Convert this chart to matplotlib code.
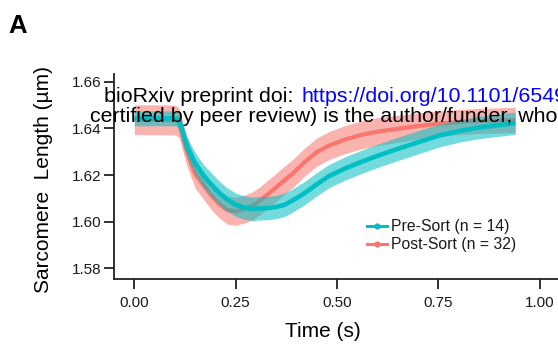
import matplotlib
matplotlib.use("Agg")
import matplotlib.pyplot as plt
import numpy as np

plt.rcParams['font.family'] = ['Liberation Sans', 'DejaVu Sans']

# Mean sarcomere length traces (µm) over one contraction cycle
time_s = [0.00, 0.05, 0.10, 0.11, 0.13, 0.15, 0.17, 0.19, 0.21, 0.23, 0.25,
          0.27, 0.29, 0.31, 0.33, 0.35, 0.37, 0.39, 0.42, 0.45, 0.48, 0.52,
          0.56, 0.60, 0.65, 0.70, 0.75, 0.80, 0.85, 0.90, 0.94]

pre_mean = [1.6443, 1.6443, 1.6443, 1.6438, 1.6322, 1.6252, 1.6198, 1.6159,
            1.6123, 1.6094, 1.6073, 1.6061, 1.6055, 1.6057, 1.6058, 1.6063,
            1.6072, 1.6090, 1.6122, 1.6160, 1.6195, 1.6228, 1.6256, 1.6282,
            1.6312, 1.6340, 1.6368, 1.6388, 1.6404, 1.6414, 1.6422]
pre_sem = [0.0032, 0.0032, 0.0032, 0.0034, 0.0040, 0.0045, 0.0048, 0.0050,
           0.0050, 0.0050, 0.0050, 0.0050, 0.0050, 0.0050, 0.0050, 0.0050,
           0.0050, 0.0050, 0.0050, 0.0050, 0.0050, 0.0050, 0.0050, 0.0050,
           0.0050, 0.0050, 0.0049, 0.0048, 0.0048, 0.0048, 0.0048]

post_mean = [1.6437, 1.6437, 1.6436, 1.6425, 1.6300, 1.6205, 1.6158, 1.6112,
             1.6075, 1.6049, 1.6045, 1.6053, 1.6066, 1.6090, 1.6118, 1.6147,
             1.6177, 1.6205, 1.6255, 1.6298, 1.6326, 1.6352, 1.6372, 1.6386,
             1.6398, 1.6410, 1.6420, 1.6427, 1.6432, 1.6434, 1.6436]
post_sem = [0.0064, 0.0064, 0.0064, 0.0063, 0.0062, 0.0061, 0.0060, 0.0060,
            0.0060, 0.0060, 0.0060, 0.0060, 0.0060, 0.0060, 0.0060, 0.0060,
            0.0060, 0.0060, 0.0060, 0.0060, 0.0060, 0.0060, 0.0060, 0.0060,
            0.0058, 0.0056, 0.0055, 0.0054, 0.0054, 0.0054, 0.0054]

pre_label = "Pre-Sort (n = 14)"
post_label = "Post-Sort (n = 32)"
x_ticks = [0.00, 0.25, 0.50, 0.75, 1.00]
y_ticks = [1.58, 1.60, 1.62, 1.64, 1.66]

TEAL = "#00BFC4"
SALMON = "#F8766D"
AXIS_COLOR = "#222222"

W, H = 558, 353
fig = plt.figure(figsize=(W / 100, H / 100), dpi=100)
ax = fig.add_axes([114 / W, (H - 279.3) / H, (559.8 - 114) / W, (279.3 - 74) / H])

t = np.array(time_s)
pm, ps = np.array(pre_mean), np.array(pre_sem)
qm, qs = np.array(post_mean), np.array(post_sem)

ax.fill_between(t, qm - qs, qm + qs, color=SALMON, alpha=0.55, lw=0, zorder=1)
ax.plot(t, qm, color=SALMON, lw=3, solid_capstyle='butt', zorder=2)
ax.fill_between(t, pm - ps, pm + ps, color=TEAL, alpha=0.55, lw=0, zorder=3)
ax.plot(t, pm, color=TEAL, lw=3.3, solid_capstyle='butt', zorder=4)

# legend proxies: line with a dot, as in the plotted series
h_pre, = ax.plot([], [], color=TEAL, lw=2.2, marker='o', ms=3.5)
h_post, = ax.plot([], [], color=SALMON, lw=2.2, marker='o', ms=3.5)
leg = ax.legend([h_pre, h_post], [pre_label, post_label], loc='upper left',
                bbox_to_anchor=((367 - 114) / 445.8, (279.3 - 219.5) / 205.3),
                frameon=False, fontsize=11.3, borderpad=0, borderaxespad=0,
                handlelength=1.25, handletextpad=0.28, labelspacing=0.18)
for txt in leg.get_texts():
    txt.set_color("#1a1a1a")

ax.set_xlim(-0.0501, 1.05)
ax.set_ylim(1.5753, 1.6633)
ax.set_xticks(x_ticks)
ax.set_xticklabels([f"{v:.2f}" for v in x_ticks])
ax.set_yticks(y_ticks)
ax.set_yticklabels([f"{v:.2f}" for v in y_ticks])

for side in ('top', 'right'):
    ax.spines[side].set_visible(False)
for side in ('left', 'bottom'):
    ax.spines[side].set_color(AXIS_COLOR)
    ax.spines[side].set_linewidth(1.3)
ax.tick_params(axis='both', direction='out', length=7, width=1.3,
               color=AXIS_COLOR, labelsize=11, labelcolor="#1a1a1a")
ax.tick_params(axis='y', pad=2)
ax.tick_params(axis='x', pad=5)

ax.set_xlabel("Time (s)", fontsize=15, va='center')
ax.xaxis.set_label_coords((323 - 114) / 445.8, (279.3 - 331.7) / 205.3)
ax.set_ylabel("Sarcomere  Length (µm)", fontsize=15, va='center')
ax.yaxis.set_label_coords((43 - 114) / 445.8, (279.3 - 179.5) / 205.3)

# panel letter
fig.text(8 / W, 1 - 33.3 / H, "A", fontsize=18.5, fontweight='bold',
         ha='left', va='baseline')

# preprint header lines overprinted on the panel
HDR = 15.4
head = fig.text(104 / W, 1 - 101.7 / H, "bioRxiv preprint doi: ", fontsize=HDR,
                ha='left', va='baseline', color='black', zorder=10)
renderer = fig.canvas.get_renderer()
head_end = head.get_window_extent(renderer=renderer).x1
fig.text(head_end / W + 0.004, 1 - 101.7 / H, "https://doi.org/10.1101/6549",
         fontsize=HDR, ha='left', va='baseline', color='#0000FF', zorder=10)
fig.text(90 / W, 1 - 121.7 / H, "certified by peer review) is the author/funder, who",
         fontsize=HDR, ha='left', va='baseline', color='black', zorder=10)

fig.savefig("out.png", dpi=100)
